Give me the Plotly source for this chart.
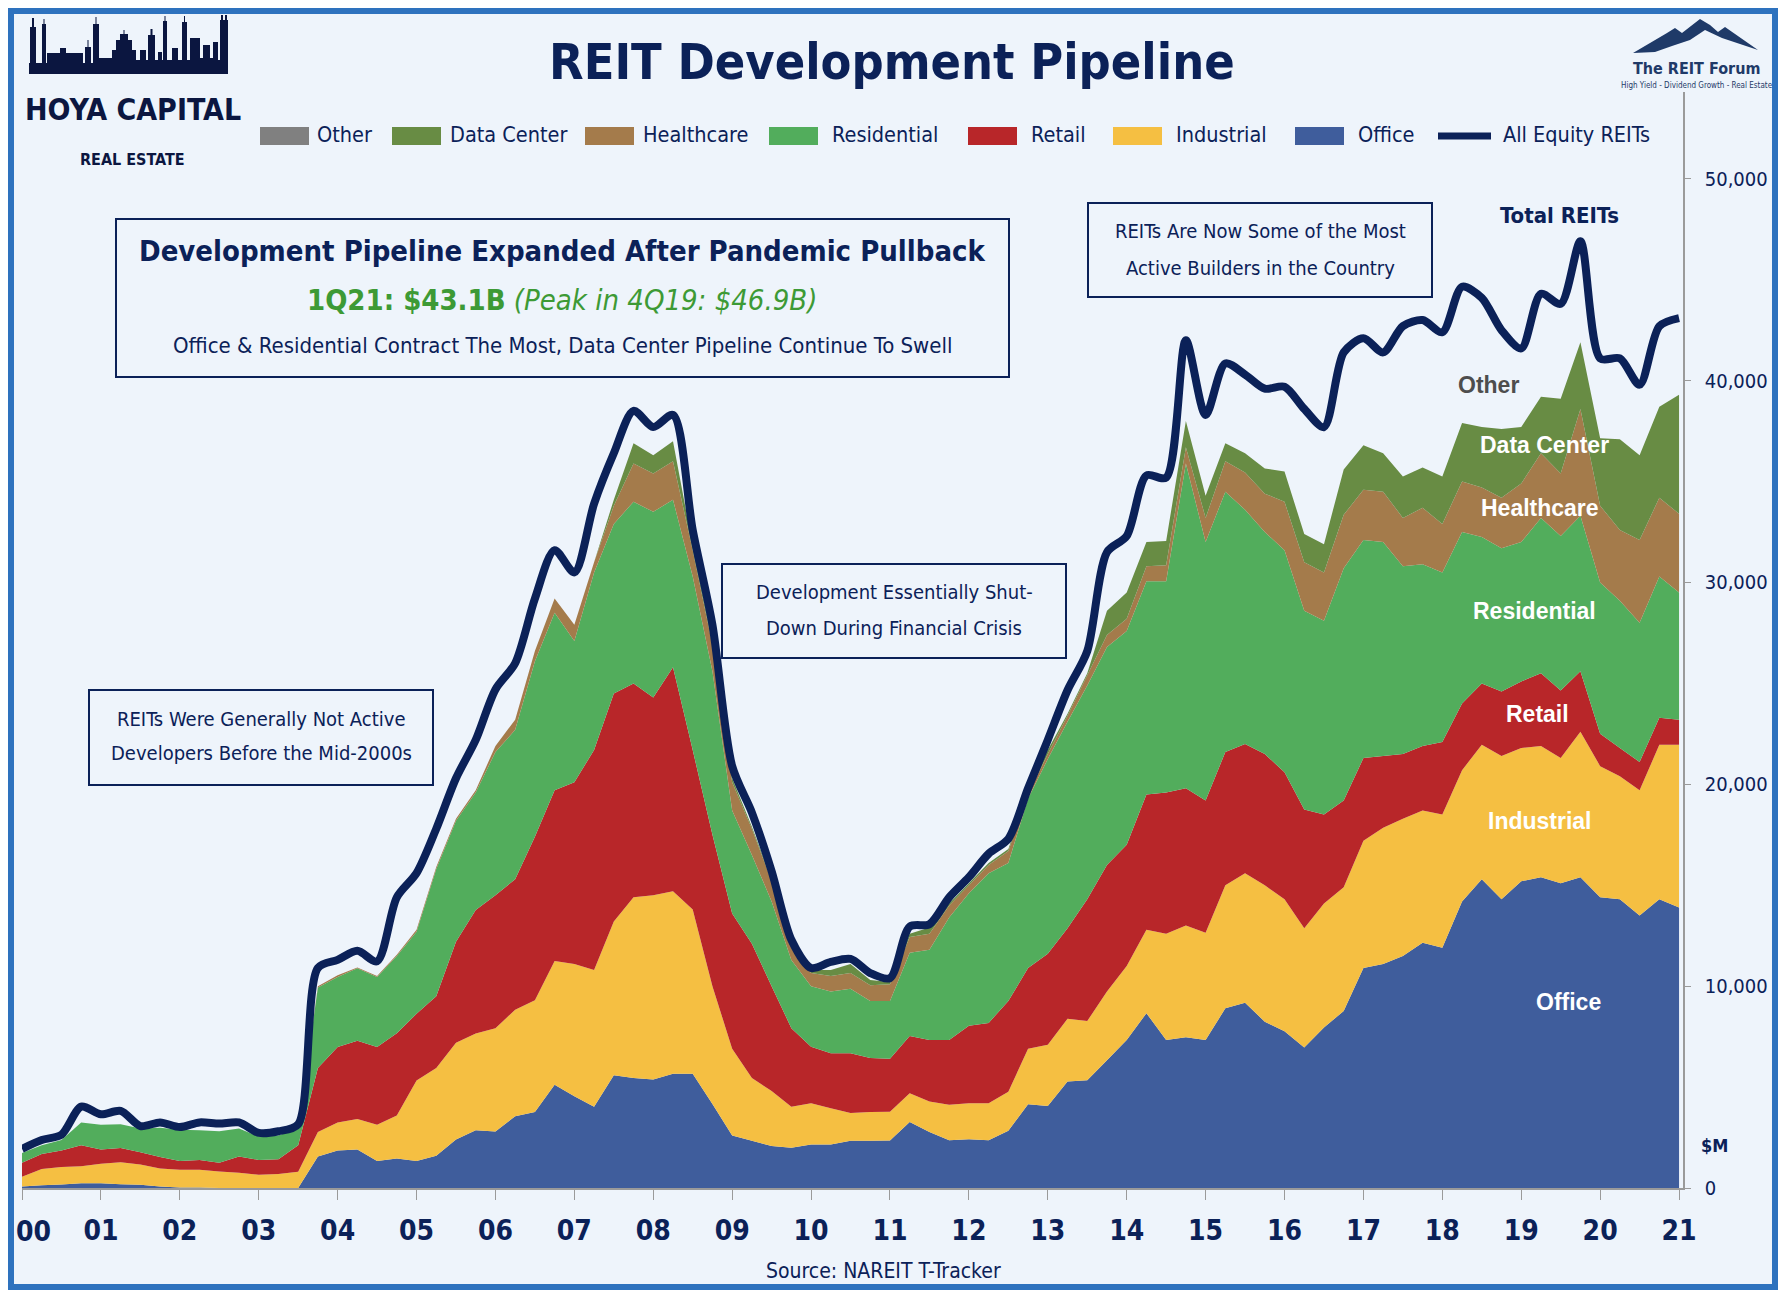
import plotly.graph_objects as go

# --- DANE: REIT development pipeline, US$ mln, kwartalnie 1Q00 .. 1Q21 ---
office = [70, 140, 170, 240, 230, 190, 160, 70, 30, 20, 0, 0, 0, 0, 0,
          1560, 1860, 1910, 1340, 1460, 1340, 1600, 2400, 2860, 2800,
          3560, 3770, 5120, 4550, 4030, 5580, 5450, 5380, 5660, 5660,
          4160, 2600, 2340, 2080, 2000, 2160, 2160, 2340, 2340, 2350,
          3270, 2780, 2360, 2410, 2360, 2840, 4150, 4060, 5280, 5340,
          6330, 7330, 8660, 7330, 7470, 7330, 8900, 9180, 8240, 7760,
          6960, 7950, 8770, 10900, 11100, 11500, 12150, 11900, 14200, 15300,
          14300, 15200, 15400, 15100, 15400, 14400, 14300, 13500, 14300, 13900]
industrial = [490, 800, 870, 840, 970, 1090, 1000, 900, 870, 880, 820, 760, 660, 690, 800,
              1220, 1390, 1510, 1790, 2130, 3990, 4340, 4800, 4800, 5120,
              5270, 5530, 6130, 6550, 6770, 7620, 8950, 9120, 9040, 8140,
              5840, 4300, 3110, 2720, 2030, 2040, 1790, 1370, 1430, 1430,
              1420, 1510, 1760, 1790, 1840, 1930, 2750, 3040, 3100, 2930,
              3410, 3670, 4140, 5270, 5530, 5310, 6100, 6420, 6760, 6540,
              5910, 6150, 6130, 6300, 6750, 6800, 6550, 6600, 6500, 6660,
              7100, 6600, 6500, 6200, 7200, 6500, 6100, 6200, 7660, 8060]
retail = [690, 740, 820, 1040, 710, 700, 610, 560, 440, 490, 430, 800, 730, 730, 1320,
          3160, 3730, 3870, 3850, 4080, 3300, 3560, 5000, 6110, 6580,
          6470, 8100, 8450, 9000, 10900, 11300, 10600, 9800, 11100, 7900,
          7500, 6700, 6650, 5200, 3890, 2800, 2730, 2970, 2670, 2620,
          2840, 3040, 3210, 3840, 3980, 4490, 4000, 4500, 4490, 6030,
          6260, 6000, 6700, 7000, 6800, 6560, 6600, 6400, 6500, 6300,
          5880, 4400, 4300, 4100, 3550, 3200, 3200, 3600, 3300, 3040,
          3200, 3300, 3600, 3350, 3000, 1600, 1400, 1400, 1340, 1240]
residential = [490, 440, 520, 1130, 1220, 1180, 1180, 1460, 1540, 1470, 1560, 1390, 1160, 1180, 870,
               3990, 3470, 3600, 3470, 3820, 4070, 6300, 6000, 5830, 7100,
               7400, 8700, 8800, 7000, 8800, 8400, 9000, 9200, 8300, 8600,
               8100, 5100, 4400, 4200, 3380, 3000, 3060, 3190, 2830, 2870,
               4120, 4470, 6070, 6560, 7420, 6840, 8400, 9650, 10230, 10600,
               10800, 10600, 10560, 10460, 16100, 12800, 12900, 11600, 11000, 11000,
               9850, 9600, 11500, 10800, 10600, 9300, 9000, 8400, 8500, 7250,
               7100, 6900, 7700, 7650, 7700, 7500, 7300, 6900, 7000, 6300]
healthcare = [0, 0, 0, 0, 0, 0, 0, 0, 0, 0, 0, 0, 0, 0, 0,
              70, 90, 30, 50, 60, 100, 100, 100, 100, 300,
              500, 500, 700, 800, 500, 900, 1900, 1900, 1900, 1300,
              1300, 1400, 1300, 1000, 650, 650, 760, 780, 780, 830,
              790, 800, 600, 400, 400, 600, 200, 250, 300, 500,
              600, 600, 740, 790, 800, 1200, 1500, 1850, 1900, 2400,
              2400, 2400, 2650, 2500, 2500, 2400, 2800, 2400, 2500, 2450,
              2500, 2900, 3200, 3100, 5300, 3800, 3500, 4100, 3900, 3900]
data_center = [0, 0, 0, 0, 0, 0, 0, 0, 0, 0, 0, 0, 0, 0, 0,
               0, 0, 0, 0, 0, 0, 0, 0, 0, 0,
               0, 0, 0, 0, 0, 300, 1000, 900, 1000, 200,
               200, 200, 100, 100, 50, 150, 300, 450, 250, 100,
               160, 300, 100, 100, 100, 100, 100, 200, 100, 100,
               1200, 1300, 1200, 1200, 1300, 1100, 900, 950, 1250, 1500,
               1400, 1400, 2250, 2200, 1900, 2050, 2000, 2350, 2900, 3000,
               3400, 2800, 2800, 3700, 3300, 3350, 4500, 4200, 4500, 5900]
other = [200, 260, 260, 780, 520, 660, 120, 260, 140, 390, 380, 300, 180, 210, 170,
         900, 760, 830, 730, 2850, 2800, 1900, 2000, 2500, 2800,
         2800, 2600, 2400, 2600, 2900, 2300, 1600, 1400, 1300, 800,
         800, 600, 700, 400, 300, 100, 400, 250, 350, 200,
         350, 170, 300, 300, 460, 500, 200, 500, 1160, 1100,
         2900, 2800, 3300, 3150, 4000, 4000, 3950, 3900, 3950, 4200,
         6200, 5800, 5800, 5300, 5000, 7450, 7300, 7150, 6750, 6400,
         4900, 3900, 5100, 4700, 5000, 3950, 4000, 3500, 4000, 3800]

kwartaly = [2000 + i / 4 for i in range(len(office))]
suma = [sum(v) for v in zip(office, industrial, retail, residential,
                              healthcare, data_center, other)]
lata = list(range(2000, 2022))
# etykieta "00" jest dopisana osobno, żeby nie ucinała jej krawędź strony
etykiety_lat = [''] + ['<b>%02d</b>' % (r % 100) for r in lata[1:]]

# --- STYL ---
NAVY = '#0B2158'
TLO = '#EEF4FB'
NARROW = 'DejaVu Sans Condensed, DejaVu Sans, sans-serif'
WIDE = 'Liberation Sans, Arial, sans-serif'

serie = [
    ('Office', office, '#3F5D9C'),
    ('Industrial', industrial, '#F5BF42'),
    ('Retail', retail, '#B82629'),
    ('Residential', residential, '#52AD5C'),
    ('Healthcare', healthcare, '#A47B4B'),
    ('Data Center', data_center, '#688C44'),
    ('Other', other, 'rgba(0,0,0,0)'),
]

# strona ma 8 px marginesu, więc wykres jest o 16 px mniejszy od okna
OFF = 8
W, H = 1770, 1282
ML, MR, MT, MB = 14, 95, 84, 102
PW, PH = W - ML - MR, H - MT - MB


def px(x):
    # x w pikselach okna -> paper
    return (x - OFF - ML) / PW


def py(y):
    # y w pikselach okna (od góry) -> paper
    return (OFF + H - MB - y) / PH


fig = go.Figure()
for nazwa, wartosci, kolor in serie:
    fig.add_trace(go.Scatter(
        x=kwartaly, y=wartosci, name=nazwa, stackgroup='one', mode='none',
        fillcolor=kolor, hoverinfo='skip'))

fig.add_trace(go.Scatter(
    x=kwartaly, y=suma, name='All Equity REITs', mode='lines',
    line=dict(color=NAVY, width=8, shape='spline', smoothing=0.8)))

shapes = []
ann = []

# ramka i tło
shapes.append(dict(type='rect', xref='paper', yref='paper', layer='below',
                   x0=px(11), x1=px(1775), y0=py(1287), y1=py(11),
                   fillcolor=TLO, line=dict(color='#2E72BE', width=6)))


def tekst(x, y, t, size, color=NAVY, family=NARROW, xanchor='center', ref='paper'):
    if ref == 'paper':
        ann.append(dict(xref='paper', yref='paper', x=px(x), y=py(y), text=t,
                        showarrow=False, xanchor=xanchor, yanchor='middle',
                        font=dict(size=size, color=color, family=family)))
    else:
        ann.append(dict(xref='x', yref='y', x=x, y=y, text=t,
                        showarrow=False, xanchor=xanchor, yanchor='middle',
                        font=dict(size=size, color=color, family=family)))


# tytuł
tekst(892, 62, '<b>REIT Development Pipeline</b>', 50)

# legenda ręczna
legenda = [('Other', '#808080', 260, 315), ('Data Center', '#688C44', 392, 448),
           ('Healthcare', '#A47B4B', 585, 641), ('Residential', '#52AD5C', 769, 830),
           ('Retail', '#B82629', 968, 1029), ('Industrial', '#F5BF42', 1113, 1174),
           ('Office', '#3F5D9C', 1295, 1356)]
for nazwa, kolor, x0, xt in legenda:
    shapes.append(dict(type='rect', xref='paper', yref='paper',
                       x0=px(x0), x1=px(x0 + 49), y0=py(145), y1=py(127),
                       fillcolor=kolor, line=dict(width=0)))
    tekst(xt, 134, nazwa, 21.5, xanchor='left')
shapes.append(dict(type='line', xref='paper', yref='paper',
                   x0=px(1438), x1=px(1491), y0=py(136), y1=py(136),
                   line=dict(color=NAVY, width=7)))
tekst(1501, 134, 'All Equity REITs', 21.5, xanchor='left')

# ramki z komentarzami
for x0, y0, x1, y1 in [(116, 219, 1009, 377), (722, 564, 1066, 658),
                       (89, 690, 433, 785), (1088, 203, 1432, 297)]:
    shapes.append(dict(type='rect', xref='paper', yref='paper',
                       x0=px(x0), x1=px(x1), y0=py(y1), y1=py(y0),
                       line=dict(color=NAVY, width=2), fillcolor='rgba(0,0,0,0)'))

ZIELONY = '#3D9A35'
tekst(562, 251, '<b>Development Pipeline Expanded After Pandemic Pullback</b>', 29)
tekst(562, 300, '<b>1Q21: $43.1B</b> <i>(Peak in 4Q19: $46.9B)</i>', 29, color=ZIELONY)
tekst(562, 345, 'Office & Residential Contract The Most, Data Center Pipeline Continue To Swell', 22)
tekst(894, 592, 'Development Essentially Shut-', 20)
tekst(894, 628, 'Down During Financial Crisis', 20)
tekst(261, 719, 'REITs Were Generally Not Active', 20)
tekst(261, 753, 'Developers Before the Mid-2000s', 20)
tekst(1260, 231, 'REITs Are Now Some of the Most', 20)
tekst(1260, 268, 'Active Builders in the Country', 20)

# etykiety warstw
tekst(2019.48, 48200, '<b>Total REITs</b>', 22, ref='data')
for t, xx, yy, kol in [('Other', 2018.59, 39800, '#4D4D4D'),
                       ('Data Center', 2019.3, 36800, 'white'),
                       ('Healthcare', 2019.24, 33700, 'white'),
                       ('Residential', 2019.17, 28600, 'white'),
                       ('Retail', 2019.2, 23500, 'white'),
                       ('Industrial', 2019.24, 18200, 'white'),
                       ('Office', 2019.6, 9200, 'white')]:
    tekst(xx, yy, '<b>%s</b>' % t, 23, color=kol, family=WIDE, ref='data')

tekst(1714, 1145, '<b>$M</b>', 18)
tekst(883, 1271, 'Source: NAREIT T-Tracker', 21)
tekst(14, 1231, '<b>00</b>', 28, xanchor='left')

# logo Hoya Capital: panorama miasta + napis
budynki = [(29, 30, 63), (30, 32, 27), (32, 34, 18), (34, 36, 27), (36, 42, 63),
           (42, 43.5, 24), (43.5, 44.5, 19), (44.5, 46, 24), (46, 47, 63),
           (47, 60, 53), (60, 66, 48), (66, 83, 53), (83, 85, 63), (85, 87.5, 47),
           (87.5, 88.5, 40), (88.5, 91, 47), (91, 93, 63), (93, 95.5, 24),
           (95.5, 96.5, 17), (96.5, 99, 24), (99, 112, 58), (112, 116, 50),
           (116, 120, 40), (120, 123.5, 34), (123.5, 124.5, 30), (124.5, 128, 34),
           (128, 132, 40), (132, 136, 50), (136, 140, 60), (140, 146, 50),
           (146, 148, 60), (148, 150.5, 35), (150.5, 152.5, 29), (152.5, 155, 35),
           (155, 158, 60), (158, 162, 52), (162, 163, 60), (163, 164.5, 21),
           (164.5, 165.5, 16), (165.5, 167, 21), (167, 172, 60), (172, 178, 48),
           (178, 182, 60), (182, 184, 22), (184, 185, 16), (185, 187, 22),
           (187, 190, 60), (190, 200, 38), (200, 203, 58), (203, 210, 45),
           (210, 213, 58), (213, 218, 42), (218, 220, 60), (220, 221, 20),
           (221, 223, 15), (223, 225, 20), (225, 227, 15), (227, 228, 20)]
punkty = [(29, 74)]
for xa, xb, yt in budynki:
    punkty += [(xa, yt), (xb, yt)]
punkty.append((228, 74))
sciezka = 'M' + ' L'.join('%.5f,%.5f' % (px(a), py(b)) for a, b in punkty) + ' Z'
shapes.append(dict(type='path', xref='paper', yref='paper', path=sciezka,
                   fillcolor='#0B1640', line=dict(width=0)))
tekst(133, 110, '<b>HOYA CAPITAL</b>', 30, color='#0B1640')
tekst(133, 160, '<b>REAL ESTATE</b>', 16, color='#0B1640')

# logo The REIT Forum: góry + napis
gory = [(1633, 53), (1667, 33), (1675, 28), (1682, 33), (1700, 19), (1710, 25),
        (1718, 32), (1725, 27), (1758, 50), (1740, 44), (1722, 38), (1705, 30),
        (1690, 40), (1672, 46), (1655, 52)]
sciezka = 'M' + ' L'.join('%.5f,%.5f' % (px(a), py(b)) for a, b in gory) + ' Z'
shapes.append(dict(type='path', xref='paper', yref='paper', path=sciezka,
                   fillcolor='#1F3A68', line=dict(width=0)))
tekst(1697, 69, '<b>The REIT Forum</b>', 16, color='#1F3A68')
tekst(1697, 86, 'High Yield - Dividend Growth - Real Estate', 8, color='#1F3A68')

fig.update_layout(
    width=W, height=H,
    margin=dict(l=ML, r=MR, t=MT, b=MB, pad=0, autoexpand=False),
    paper_bgcolor='white', plot_bgcolor='rgba(0,0,0,0)',
    showlegend=False,
    font=dict(family=NARROW, color=NAVY),
    shapes=shapes, annotations=ann,
    xaxis=dict(range=[2000, 2021.05], tickvals=lata, ticktext=etykiety_lat,
               ticks='outside', ticklen=10, tickcolor='#9A9A9A', tickwidth=1,
               showline=True, linecolor='#9A9A9A', linewidth=1.5,
               showgrid=False, zeroline=False, ticklabelstandoff=7,
               ticklabeloverflow='allow', automargin=False,
               tickfont=dict(size=28, color=NAVY, family=NARROW)),
    yaxis=dict(range=[0, 54300], side='right', tickvals=list(range(0, 50001, 10000)),
               tickformat=',', ticks='outside', ticklen=6, tickcolor='#9A9A9A',
               showline=True, linecolor='#9A9A9A', linewidth=1.5,
               showgrid=False, zeroline=False, ticklabelstandoff=10,
               automargin=False,
               tickfont=dict(size=20, color=NAVY, family=NARROW)),
)

fig.write_html("out.html")
